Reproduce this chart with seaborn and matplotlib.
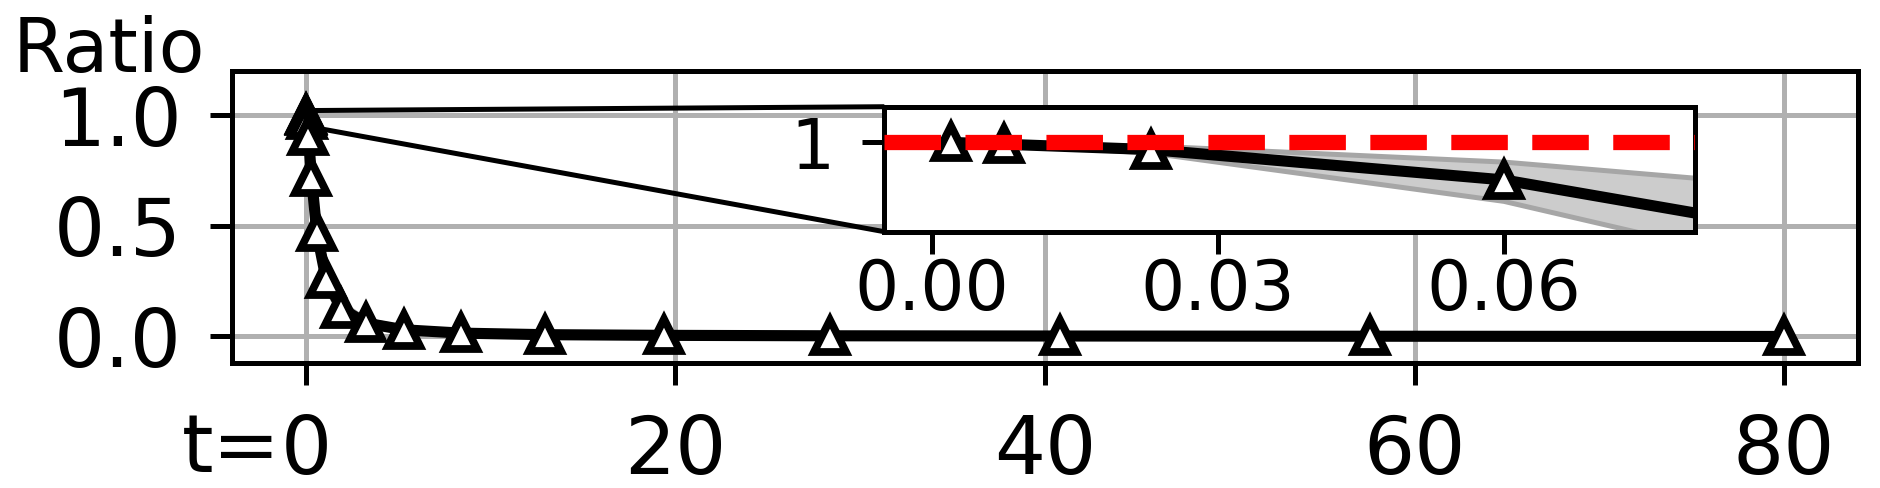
import matplotlib
matplotlib.use("Agg")
import matplotlib.pyplot as plt
import matplotlib.transforms as mtransforms
import numpy as np
import pandas as pd
import seaborn as sns

# noise levels (sampling steps) and the ratio measured at each of them
sigma = [0.002, 0.0075, 0.023, 0.060, 0.14, 0.30, 0.59, 1.09, 1.92, 3.26,
         5.32, 8.40, 12.92, 19.36, 28.39, 40.80, 57.59, 80.0]
ratio_mean = [1.000, 0.999, 0.996, 0.979, 0.905, 0.72, 0.47, 0.26, 0.125, 0.060,
              0.030, 0.015, 0.008, 0.005, 0.003, 0.002, 0.001, 0.000]
ratio_low = [1.000, 0.999, 0.994, 0.967, 0.868, 0.67, 0.42, 0.22, 0.100, 0.045,
             0.022, 0.010, 0.005, 0.003, 0.002, 0.001, 0.0005, 0.000]
ratio_high = [1.000, 0.999, 0.998, 0.989, 0.953, 0.77, 0.52, 0.30, 0.150, 0.075,
              0.038, 0.020, 0.011, 0.007, 0.004, 0.003, 0.0015, 0.000]

main_xticks = [0, 20, 40, 60, 80]
main_xlabels = ["0", "20", "40", "60", "80"]
main_yticks = [0.0, 0.5, 1.0]
inset_xticks = [0.00, 0.03, 0.06]
inset_yticks = [1]

df = pd.DataFrame({"sigma": sigma, "mean": ratio_mean,
                   "low": ratio_low, "high": ratio_high})

sns.set_theme(style="whitegrid", context="notebook",
              rc={"axes.edgecolor": "black", "axes.linewidth": 1.8,
                  "grid.color": "#b0b0b0", "grid.linewidth": 1.8,
                  "text.color": "black", "xtick.color": "black",
                  "ytick.color": "black", "axes.labelcolor": "black",
                  "xtick.bottom": True, "ytick.left": True})
plt.rcParams["font.family"] = ["DejaVu Sans"]

LABEL_PT = 29


def draw_curve(a):
    a.fill_between(df["sigma"], df["low"], df["high"], color="0.8", lw=0, zorder=1)
    a.plot(df["sigma"], df["low"], color="0.65", lw=1.8, zorder=1.5)
    a.plot(df["sigma"], df["high"], color="0.65", lw=1.8, zorder=1.5)
    sns.lineplot(data=df, x="sigma", y="mean", ax=a, color="black", lw=4,
                 marker="^", markersize=11.5, markerfacecolor="white",
                 markeredgecolor="black", markeredgewidth=2.8, zorder=3)


fig = plt.figure(figsize=(9.4, 2.44), dpi=200)
ax = fig.add_axes([0.1234, 0.2561, 0.8649, 0.5990])
draw_curve(ax)
ax.set_xlim(-4, 84)
ax.set_ylim(-0.12, 1.2)
ax.set_xticks(main_xticks)
ax.set_xticklabels(main_xlabels)
ax.set_yticks(main_yticks)
ax.set_xlabel("")
ax.set_ylabel("")
ax.tick_params(labelsize=LABEL_PT, length=8, width=1.8, pad=10, color="black")
for s in ax.spines.values():
    s.set_color("black")
    s.set_linewidth(1.8)

# "t=" prefix sitting just left of the first tick label
base = mtransforms.blended_transform_factory(ax.transData, ax.transAxes)
pref_tr = mtransforms.offset_copy(base, fig=fig, x=-0.318 * LABEL_PT,
                                  y=-(18 + 0.729 * LABEL_PT), units="points")
ax.text(0, 0, "t=", transform=pref_tr, fontsize=LABEL_PT,
        ha="right", va="baseline", clip_on=False)

fig.text(0.0069, 0.8525, "Ratio", fontsize=27, va="baseline", ha="left")

# zoomed view near t=0
axins = ax.inset_axes([0.4012, 0.4492, 0.4983, 0.4276])
draw_curve(axins)
axins.axhline(1, color="red", ls="--", lw=5.5, zorder=4)
axins.set_xlim(-0.005, 0.08)
axins.set_ylim(0.95, 1.02)
axins.set_xticks(inset_xticks)
axins.set_xticklabels([f"{v:.2f}" for v in inset_xticks])
axins.set_yticks(inset_yticks)
axins.set_yticklabels([str(v) for v in inset_yticks])
axins.set_xlabel("")
axins.set_ylabel("")
axins.grid(False)
axins.set_facecolor("white")
axins.tick_params(labelsize=25, length=8, width=1.8, color="black")
axins.tick_params(axis="x", pad=1)
axins.tick_params(axis="y", pad=10)
for s in axins.spines.values():
    s.set_color("black")
    s.set_linewidth(1.8)

ind = ax.indicate_inset_zoom(axins, edgecolor="black", alpha=1, linewidth=1.8)

fig.savefig("out.png", dpi=200)
